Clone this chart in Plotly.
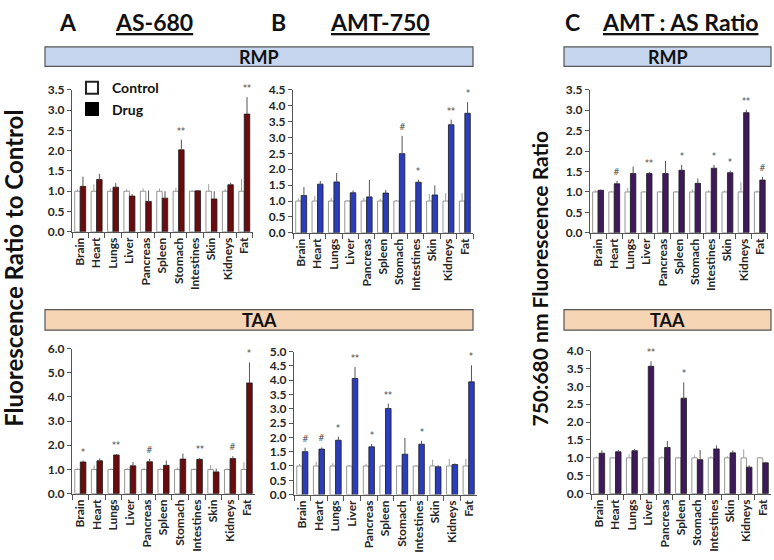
import plotly.graph_objects as go

W, H = 774, 560

organs = ["Brain", "Heart", "Lungs", "Liver", "Pancreas", "Spleen",
          "Stomach", "Intestines", "Skin", "Kidneys", "Fat"]

# --- AS-680, RMP ---
as_rmp_ctrl_err = [0.05, 0.17, 0.07, 0.05, 0.07, 0.07, 0.08, 0.02, 0.18, 0.05, 0.30]
as_rmp_drug = [1.12, 1.29, 1.10, 0.88, 0.75, 0.83, 2.02, 1.01, 0.81, 1.16, 2.90]
as_rmp_drug_err = [0.24, 0.14, 0.10, 0.05, 0.27, 0.17, 0.25, 0.02, 0.19, 0.05, 0.42]
as_rmp_sig = ["", "", "", "", "", "", "**", "", "", "", "**"]

# --- AMT-750, RMP ---
amt_rmp_ctrl_err = [0.08, 0.16, 0.10, 0.03, 0.10, 0.06, 0.03, 0.03, 0.22, 0.25, 0.25]
amt_rmp_drug = [1.17, 1.53, 1.60, 1.26, 1.13, 1.25, 2.49, 1.59, 1.19, 3.40, 3.76]
amt_rmp_drug_err = [0.27, 0.10, 0.28, 0.07, 0.53, 0.10, 0.56, 0.08, 0.30, 0.16, 0.35]
amt_rmp_sig = ["", "", "", "", "", "", "#", "*", "", "**", "*"]

# --- AMT:AS ratio, RMP ---
ratio_rmp_ctrl_err = [0.04, 0.02, 0.10, 0.02, 0.03, 0.02, 0.06, 0.04, 0.04, 0.24, 0.04]
ratio_rmp_drug = [1.04, 1.20, 1.45, 1.45, 1.45, 1.53, 1.21, 1.58, 1.47, 2.94, 1.29]
ratio_rmp_drug_err = [0.02, 0.07, 0.17, 0.04, 0.31, 0.13, 0.12, 0.08, 0.05, 0.07, 0.08]
ratio_rmp_sig = ["", "#", "", "**", "", "*", "", "*", "*", "**", "#"]

# --- AS-680, TAA ---
as_taa_ctrl_err = [0.05, 0.17, 0.05, 0.05, 0.05, 0.05, 0.08, 0.04, 0.18, 0.05, 0.30]
as_taa_drug = [1.31, 1.36, 1.60, 1.15, 1.32, 1.17, 1.43, 1.42, 0.90, 1.45, 4.58]
as_taa_drug_err = [0.06, 0.10, 0.03, 0.16, 0.12, 0.20, 0.23, 0.05, 0.14, 0.10, 0.85]
as_taa_sig = ["*", "", "**", "", "#", "", "", "**", "", "#", "*"]

# --- AMT-750, TAA ---
amt_taa_ctrl_err = [0.07, 0.15, 0.10, 0.02, 0.08, 0.05, 0.03, 0.03, 0.22, 0.25, 0.25]
amt_taa_drug = [1.50, 1.59, 1.90, 4.06, 1.67, 3.01, 1.41, 1.76, 0.97, 1.05, 3.94]
amt_taa_drug_err = [0.14, 0.06, 0.12, 0.40, 0.10, 0.17, 0.57, 0.12, 0.06, 0.04, 0.58]
amt_taa_sig = ["#", "#", "*", "**", "*", "**", "", "*", "", "", "*"]

# --- AMT:AS ratio, TAA ---
ratio_taa_ctrl_err = [0.04, 0.03, 0.10, 0.02, 0.04, 0.02, 0.07, 0.04, 0.05, 0.24, 0.03]
ratio_taa_drug = [1.13, 1.17, 1.20, 3.56, 1.29, 2.67, 0.95, 1.25, 1.14, 0.74, 0.86]
ratio_taa_drug_err = [0.08, 0.05, 0.05, 0.14, 0.18, 0.44, 0.27, 0.10, 0.07, 0.05, 0.03]
ratio_taa_sig = ["", "", "", "**", "", "*", "", "", "", "", ""]

control = [1.0] * len(organs)

RED, BLUE, PURPLE = "#6b0b0e", "#2b3dbd", "#3e1a5c"
FONT = "Lato"
TXT = "#262626"
BARGAP = 0.33


def px(x):
    return x / W


def py(y):
    return 1 - y / H


# (suffix, x-domain px, y-domain px, range, dtick, drug, err, ctrl_err, sig, colour)
panels = [
    ("", (72, 253), (84, 230), 3.5, 0.5, as_rmp_drug, as_rmp_drug_err, as_rmp_ctrl_err, as_rmp_sig, RED),
    ("2", (293, 473), (84, 231), 4.5, 0.5, amt_rmp_drug, amt_rmp_drug_err, amt_rmp_ctrl_err, amt_rmp_sig, BLUE),
    ("3", (590, 768), (84, 231), 3.5, 0.5, ratio_rmp_drug, ratio_rmp_drug_err, ratio_rmp_ctrl_err, ratio_rmp_sig, PURPLE),
    ("4", (72, 255), (350, 499), 6.0, 1.0, as_taa_drug, as_taa_drug_err, as_taa_ctrl_err, as_taa_sig, RED),
    ("5", (294, 477), (353, 500), 5.0, 0.5, amt_taa_drug, amt_taa_drug_err, amt_taa_ctrl_err, amt_taa_sig, BLUE),
    ("6", (591, 771), (352, 499), 4.0, 0.5, ratio_taa_drug, ratio_taa_drug_err, ratio_taa_ctrl_err, ratio_taa_sig, PURPLE),
]

fig = go.Figure()
annotations = []
shapes = []

for suf, xd, yd, top, dt, drug, derr, cerr, sig, col in panels:
    xa, ya = "x" + suf, "y" + suf
    fig.add_trace(go.Bar(
        x=organs, y=control, xaxis=xa, yaxis=ya, showlegend=False,
        marker=dict(color="white", line=dict(color="#7a7a7a", width=0.8)),
        error_y=dict(type="data", array=cerr, arrayminus=[0] * len(cerr),
                     symmetric=False, color="#a0a0a0", thickness=1, width=0),
    ))
    fig.add_trace(go.Bar(
        x=organs, y=drug, xaxis=xa, yaxis=ya, showlegend=False,
        marker=dict(color=col, line=dict(color="#1a1a1a", width=0.8)),
        error_y=dict(type="data", array=derr, arrayminus=[0] * len(derr),
                     symmetric=False, color="#555555", thickness=1, width=0),
    ))
    layout_x = dict(
        domain=[px(xd[0]), px(xd[1])], anchor=ya, type="category",
        tickson="boundaries", ticks="outside", ticklen=5, tickcolor="#555",
        showline=True, linecolor="#555", linewidth=1, tickangle=-90,
        tickfont=dict(family=FONT, size=12, color=TXT, weight="bold"),
        showgrid=False, zeroline=False, fixedrange=True,
    )
    layout_y = dict(
        domain=[py(yd[1]), py(yd[0])], anchor=xa, range=[0, top], dtick=dt,
        tickformat=".1f", ticks="outside", ticklen=4, tickcolor="#555",
        showline=True, linecolor="#555", linewidth=1,
        tickfont=dict(family=FONT, size=12, color=TXT, weight="bold"),
        showgrid=False, zeroline=False, fixedrange=True,
    )
    fig.update_layout({"xaxis" + suf: layout_x, "yaxis" + suf: layout_y})

    # significance marks above the drug bars
    off = (1 - BARGAP) / 4
    for i, s in enumerate(sig):
        if s:
            annotations.append(dict(
                x=i + off, y=drug[i] + derr[i], xref=xa, yref=ya,
                text=s, showarrow=False, xanchor="center", yanchor="bottom", yshift=2,
                font=dict(family="DejaVu Sans", size=8, color="#444"),
            ))

# legend entries (black swatch for Drug as in the original)
fig.add_trace(go.Scatter(x=[None], y=[None], mode="markers", name="Control",
                         marker=dict(symbol="square", size=11, color="white",
                                     line=dict(color="#222", width=1))))
fig.add_trace(go.Scatter(x=[None], y=[None], mode="markers", name="Drug",
                         marker=dict(symbol="square", size=11, color="black",
                                     line=dict(color="black", width=1))))

# condition headers
for (x0, x1), (y0, y1), label, fill in [
    ((45, 473), (40, 60), "RMP", "#c6d6ef"),
    ((564, 771), (40, 60), "RMP", "#c6d6ef"),
    ((45, 473), (310, 331), "TAA", "#f6d5b4"),
    ((564, 771), (310, 331), "TAA", "#f6d5b4"),
]:
    shapes.append(dict(type="rect", xref="paper", yref="paper",
                       x0=px(x0), x1=px(x1), y0=py(y1), y1=py(y0),
                       fillcolor=fill, line=dict(color="#555", width=1.2)))
    annotations.append(dict(x=px((x0 + x1) / 2), y=py((y0 + y1) / 2),
                            xref="paper", yref="paper", text="<b>%s</b>" % label,
                            showarrow=False, xanchor="center", yanchor="middle",
                            font=dict(family=FONT, size=18, color="#111")))

# panel titles
for x, label in [(68, "A"), (154, "<u>AS-680</u>"), (278, "B"), (380, "<u>AMT-750</u>"),
                 (572, "C"), (680, "<u>AMT : AS Ratio</u>")]:
    annotations.append(dict(x=px(x), y=py(14), xref="paper", yref="paper",
                            text="<b>%s</b>" % label, showarrow=False,
                            xanchor="center", yanchor="middle",
                            font=dict(family=FONT, size=23, color="#111")))

# y-axis titles
annotations.append(dict(x=px(14), y=py(268), xref="paper", yref="paper",
                        text="<b>Fluorescence Ratio to Control</b>", textangle=-90,
                        showarrow=False, xanchor="center", yanchor="middle",
                        font=dict(family=FONT, size=24, color="#111")))
annotations.append(dict(x=px(540), y=py(278), xref="paper", yref="paper",
                        text="<b>750:680 nm Fluorescence Ratio</b>", textangle=-90,
                        showarrow=False, xanchor="center", yanchor="middle",
                        font=dict(family=FONT, size=21, color="#111")))

fig.update_layout(
    width=W, height=H, margin=dict(l=0, r=0, t=0, b=0),
    paper_bgcolor="white", plot_bgcolor="white",
    barmode="group", bargap=BARGAP, bargroupgap=0,
    annotations=annotations, shapes=shapes,
    showlegend=True,
    legend=dict(x=px(72), y=py(66), xanchor="left", yanchor="top",
                bgcolor="rgba(0,0,0,0)", tracegroupgap=0, itemsizing="constant",
                itemwidth=30,
                font=dict(family=FONT, size=14, color="#111", weight="bold")),
)

fig.write_html("out.html", config={"displayModeBar": False},
               post_script="document.body.style.margin = '0';")
